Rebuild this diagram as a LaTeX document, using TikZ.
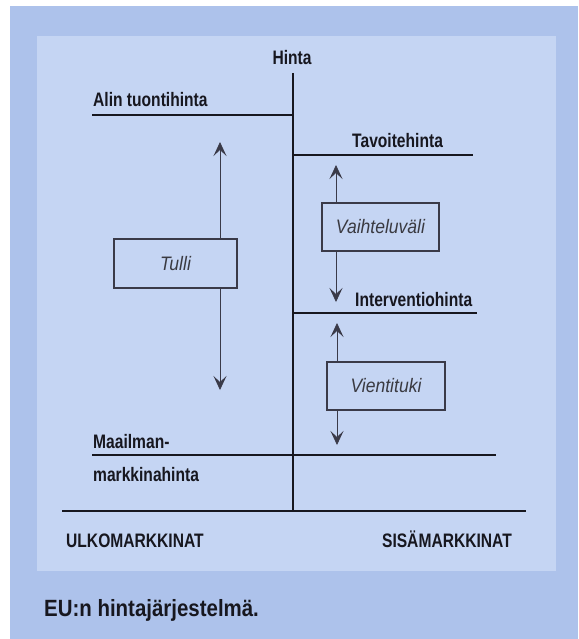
\documentclass[tikz,border=0pt]{standalone}
\usepackage{fontspec}
\setmainfont{Liberation Sans}
\newfontfamily\labfont{Liberation Sans}[FakeStretch=0.8]
\newfontfamily\boxfont{Liberation Sans}[FakeStretch=0.9]
\newfontfamily\capfont{Liberation Sans}[FakeStretch=0.87]
\usetikzlibrary{arrows.meta}
\definecolor{outerblue}{HTML}{ADC2EB}
\definecolor{panelblue}{HTML}{C5D5F3}
\definecolor{ink}{HTML}{17171F}
\definecolor{arrowgray}{HTML}{3A3A48}
\tikzset{
  lab/.style={font=\labfont\bfseries\fontsize{19.5}{22}\selectfont, text=ink, inner sep=0pt},
  captext/.style={font=\capfont\bfseries\fontsize{23.5}{27}\selectfont, text=ink, inner sep=0pt, anchor=base west},
  priceline/.style={draw=ink, line width=2.2pt},
  axisline/.style={draw=ink, line width=2.8pt},
  rangearrow/.style={draw=arrowgray, line width=0.8pt, {Stealth[length=14pt,width=13pt,inset=6pt]}-{Stealth[length=14pt,width=13pt,inset=6pt]}},
  pricebox/.style={draw=arrowgray, line width=1.3pt, fill=panelblue, inner sep=0pt,
    font=\boxfont\itshape\fontsize{19.5}{22}\selectfont, text=ink!85!white},
}
\begin{document}
\begin{tikzpicture}[x=1pt,y=-1pt]
\useasboundingbox (0,0) rectangle (578,639);
\fill[white] (0,0) rectangle (578,639);
\fill[outerblue] (10,6) rectangle (578,639);
\fill[panelblue] (37,36) rectangle (556,571);

% coordinates
\coordinate (axtop) at (293,73);
\coordinate (axbot) at (293,511);
\coordinate (alinL) at (92,115);
\coordinate (alinR) at (293,115);
\coordinate (tavL) at (293,155);
\coordinate (tavR) at (473,155);
\coordinate (intL) at (293,313);
\coordinate (intR) at (477,313);
\coordinate (maaL) at (92,455);
\coordinate (maaR) at (496,455);
\coordinate (baseL) at (62,511);
\coordinate (baseR) at (526,511);

% price lines
\draw[priceline] (alinL) -- (alinR);
\draw[priceline] (tavL) -- (tavR);
\draw[priceline] (intL) -- (intR);
\draw[priceline] (maaL) -- (maaR);
\draw[axisline] (baseL) -- (baseR);
\draw[axisline] (axtop) -- (axbot);

% labels
\node[lab, anchor=base] (hinta) at (292,65) {Hinta};
\node[lab, anchor=base west] (alin) at (93,107) {Alin tuontihinta};
\node[lab, anchor=base west] (tavoite) at (352,148) {Tavoitehinta};
\node[lab, anchor=base west] (interv) at (355,306) {Interventiohinta};
\node[lab, anchor=base west] (maa1) at (93,448) {Maailman-};
\node[lab, anchor=base west] (maa2) at (93,481) {markkinahinta};
\node[lab, anchor=base west] (ulko) at (66,547) {ULKOMARKKINAT};
\node[lab, anchor=base east] (sisa) at (512,547) {SISÄMARKKINAT};

% range arrows
\coordinate (tuA) at (220,142);
\coordinate (tuB) at (220,390);
\coordinate (vaA) at (336,165);
\coordinate (vaB) at (336,302);
\coordinate (viA) at (337,323);
\coordinate (viB) at (337,445);
\draw[rangearrow] (tuB) -- (tuA);
\draw[rangearrow] (vaB) -- (vaA);
\draw[rangearrow] (viB) -- (viA);

% boxes
\node[pricebox, minimum width=123pt, minimum height=49pt] (tulli) at (175.5,263.5) {Tulli};
\node[pricebox, minimum width=117pt, minimum height=48pt] (vaiht) at (380.5,227) {Vaihteluväli};
\node[pricebox, minimum width=118pt, minimum height=48pt] (vienti) at (386,386) {Vientituki};

% caption
\node[captext] (caption) at (44,616) {EU:n hintajärjestelmä.};
\end{tikzpicture}
\end{document}
